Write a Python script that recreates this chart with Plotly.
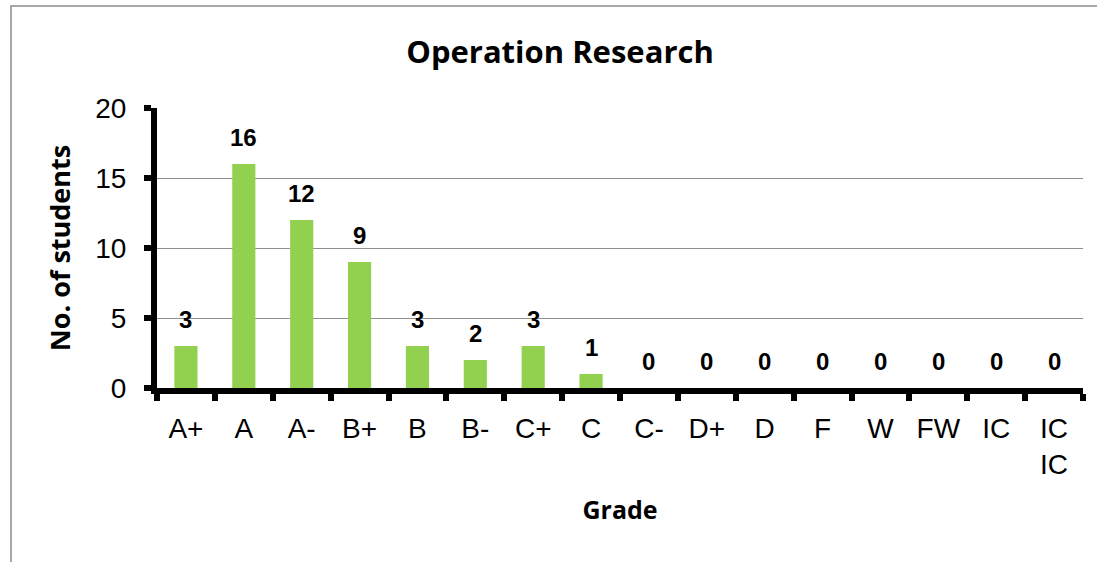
import plotly.graph_objects as go

grades = ["A+", "A", "A-", "B+", "B", "B-", "C+", "C", "C-", "D+", "D", "F", "W", "FW", "IC", "IC<br>IC"]
students = [3, 16, 12, 9, 3, 2, 3, 1, 0, 0, 0, 0, 0, 0, 0, 0]
y_ticks = [0, 5, 10, 15, 20]

W, H = 1097, 562
L, R, T, B = 157, 14, 108, 174
pw = W - L - R
ph = H - T - B

fig = go.Figure()
fig.add_trace(go.Bar(
    x=grades, y=students,
    marker=dict(color="#92D050", line=dict(width=0)),
    width=0.4,
    hoverinfo="x+y",
))

for g, v in zip(grades, students):
    fig.add_annotation(
        x=g, y=v, text=str(v), showarrow=False,
        yanchor="bottom", yshift=11,
        font=dict(family="Liberation Sans, Arial", size=24, color="black", weight="bold"),
    )

# outer chart frame (continues beyond the visible area on right/bottom)
fig.add_shape(
    type="rect", xref="paper", yref="paper",
    x0=(11 - L) / pw, x1=(W + 20 - L) / pw,
    y0=-(H + 20 - (T + ph)) / ph, y1=(T + ph - 6) / ph,
    line=dict(color="#8c8c8c", width=1.5), fillcolor="rgba(0,0,0,0)", layer="below",
)

fig.update_layout(
    width=W, height=H,
    margin=dict(l=L, r=R, t=T, b=B),
    paper_bgcolor="white", plot_bgcolor="white",
    showlegend=False,
    title=dict(
        text="<b>Operation Research</b>",
        x=560 / W, xanchor="center", xref="container",
        y=1 - 52 / H, yanchor="middle", yref="container",
        font=dict(family="Open Sans", size=31, color="black"),
    ),
    bargap=0.6,
)

fig.update_xaxes(
    type="category",
    showline=True, linecolor="black", linewidth=6,
    ticks="outside", tickson="boundaries", ticklen=7, tickwidth=6, tickcolor="black",
    tickfont=dict(family="Liberation Sans, Arial", size=28, color="black"),
    tickangle=0,
    ticklabelstandoff=10,
    showgrid=False,
    title=dict(text="<b>Grade</b>", font=dict(family="Open Sans", size=25, color="black"), standoff=24),
)
fig.update_yaxes(
    range=[0, 20], tickvals=y_ticks,
    showline=True, linecolor="black", linewidth=6,
    ticks="outside", ticklen=7, tickwidth=6, tickcolor="black",
    tickfont=dict(family="Liberation Sans, Arial", size=28, color="black"),
    showgrid=True, gridcolor="#8f8f8f", gridwidth=1.3,
    zeroline=False,
    ticklabelstandoff=12,
    title=dict(text="<b>No. of students</b>", font=dict(family="Open Sans", size=27, color="black"), standoff=19),
)

fig.write_html(
    "out.html",
    config={"displayModeBar": False},
    post_script="document.body.style.margin='0';document.body.style.overflow='hidden';",
)
